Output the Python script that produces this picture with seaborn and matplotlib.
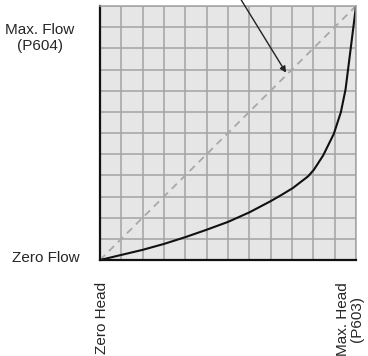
import matplotlib
matplotlib.use("Agg")
import matplotlib.pyplot as plt
import seaborn as sns
import pandas as pd

# flow curve (grid units 0..12)
head = [0, 1, 2, 3, 4, 5, 6, 7, 8, 8.5, 9.04, 9.75, 10.03, 10.46, 10.96, 11.29, 11.51, 11.75, 12]
flow = [0, 0.24, 0.48, 0.76, 1.08, 1.43, 1.8, 2.25, 2.78, 3.07, 3.4, 3.95, 4.27, 4.94, 5.96, 6.98, 8.06, 9.98, 12]
linear_head = [0, 12]
linear_flow = [0, 12]
grid_ticks = list(range(13))

curve = pd.DataFrame({"head": head, "flow": flow})
linear = pd.DataFrame({"head": linear_head, "flow": linear_flow})

sns.set_style("white", {"axes.facecolor": "#e6e6e6"})
plt.rcParams['font.family'] = ['Liberation Sans Narrow', 'Liberation Sans', 'DejaVu Sans']

fig = plt.figure(figsize=(3.68, 3.56), dpi=100)
ax = fig.add_axes([100/368, 96/356, 256/368, 254/356])

sns.lineplot(data=linear, x="head", y="flow", ax=ax, color="#a8a8a8",
             linestyle=(0, (4, 3)), linewidth=1.3)
sns.lineplot(data=curve, x="head", y="flow", ax=ax, color="#111111", linewidth=1.5,
             solid_joinstyle="round")

ax.set_xlim(0, 12)
ax.set_ylim(0, 12)
ax.set_xticks(grid_ticks)
ax.set_yticks(grid_ticks)
ax.set_xticklabels([])
ax.set_yticklabels([])
ax.tick_params(length=0)
ax.grid(True, color="#a3a3a3", linewidth=1.1)
ax.set_axisbelow(True)
ax.set_xlabel("")
ax.set_ylabel("")

for side in ["top", "right"]:
    ax.spines[side].set_color("#a3a3a3")
    ax.spines[side].set_linewidth(1.1)
for side in ["left", "bottom"]:
    ax.spines[side].set_color("#111111")
    ax.spines[side].set_linewidth(1.6)

ax.annotate("", xy=(8.72, 8.85), xytext=(6.55, 12.4),
            arrowprops=dict(arrowstyle="-|>", color="#222222", lw=1.0,
                            mutation_scale=9, shrinkA=0, shrinkB=0),
            annotation_clip=False)

fs = 11
fig.text(40/368, 1 - 38/356, "Max. Flow\n(P604)", ha="center", va="center",
         fontsize=fs, linespacing=1.15)
fig.text(80/368, 1 - 258/356, "Zero Flow", ha="right", va="center", fontsize=fs)
fig.text(102/368, 1 - 282/356, "Zero Head", ha="center", va="top",
         rotation=90, fontsize=fs)
fig.text(350/368, 1 - 282/356, "Max. Head\n(P603)", ha="center", va="top",
         rotation=90, fontsize=fs, linespacing=1.0, multialignment="center")

fig.savefig("out.png", dpi=100)
